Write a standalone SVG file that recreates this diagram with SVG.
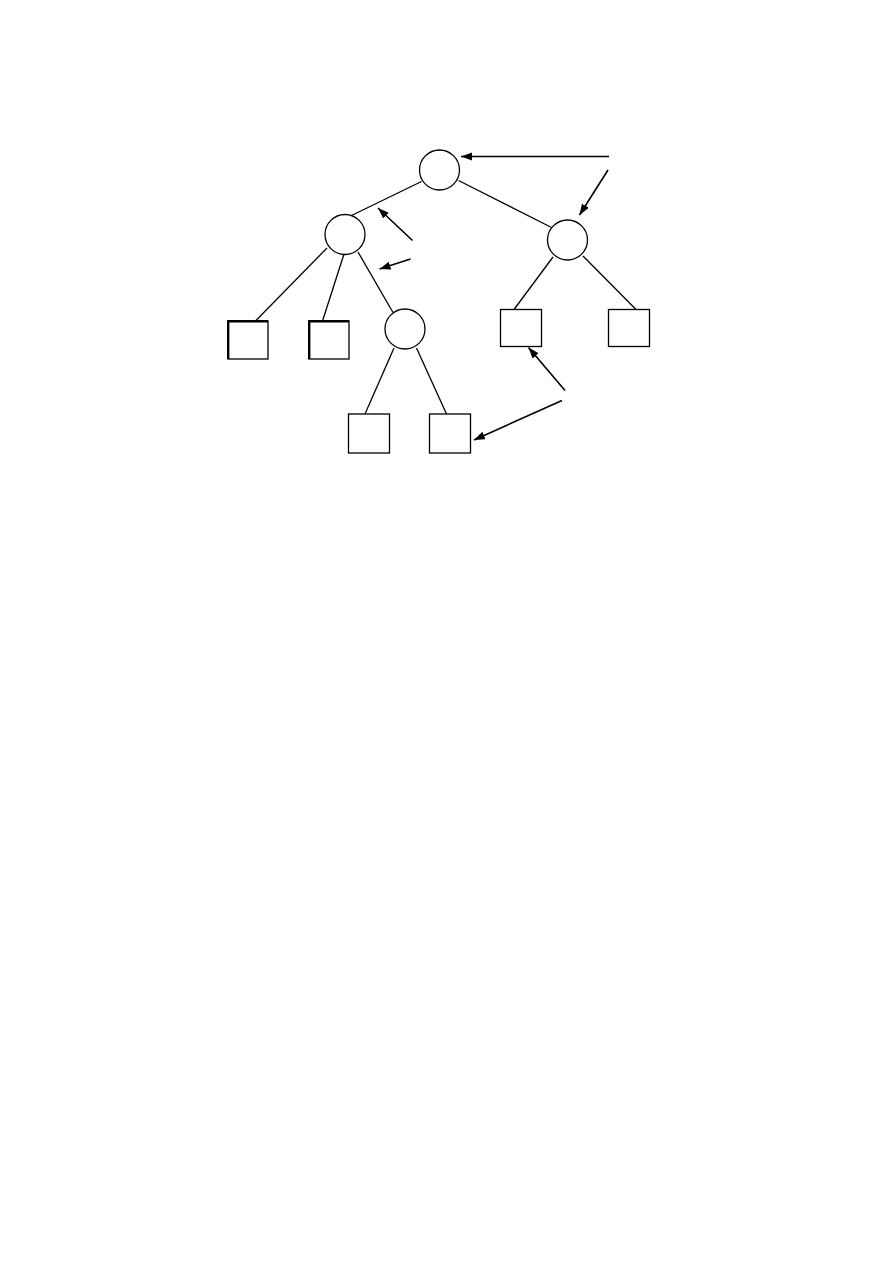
<svg xmlns="http://www.w3.org/2000/svg" width="893" height="1263" viewBox="0 0 893 1263">
<style>
.n{fill:#fff;stroke:#000;stroke-width:1.3}
.e{stroke:#000;stroke-width:1.3;fill:none}
.a{stroke:#000;stroke-width:1.6;fill:none;marker-end:url(#ah)}
.thick{stroke:#000;stroke-width:2.4;fill:none}
</style>
<defs>
<marker id="ah" markerUnits="userSpaceOnUse" markerWidth="12" markerHeight="9" refX="11" refY="4" orient="auto">
<path d="M0,0 L11,4 L0,8 z" fill="#000"/>
</marker>
</defs>
<rect width="893" height="1263" fill="#fff"/>
<g id="connectors">
<line class="e" x1="421.5" y1="181.5" x2="351.5" y2="215.5"/>
<line class="e" x1="458.5" y1="180.5" x2="551.5" y2="227.5"/>
<line class="e" x1="327" y1="248" x2="255.5" y2="321"/>
<line class="e" x1="344" y1="254" x2="322.5" y2="321"/>
<line class="e" x1="358" y1="252" x2="393" y2="312.5"/>
<line class="e" x1="553" y1="257" x2="514" y2="309.5"/>
<line class="e" x1="583" y1="256" x2="636" y2="309.5"/>
<line class="e" x1="394" y1="348" x2="365" y2="414"/>
<line class="e" x1="416.5" y1="348" x2="446.5" y2="414"/>
<line class="a" x1="609" y1="156.5" x2="461" y2="156.5"/>
<line class="a" x1="608" y1="170" x2="579.5" y2="215"/>
<line class="a" x1="412.5" y1="240.5" x2="378" y2="208"/>
<line class="a" x1="410.5" y1="259" x2="379.5" y2="269"/>
<line class="a" x1="565" y1="390.5" x2="528.5" y2="347.5"/>
<line class="a" x1="562" y1="400.5" x2="474" y2="440"/>
</g>
<g id="root"><circle class="n" cx="439.5" cy="170" r="20"/></g>
<g id="left"><circle class="n" cx="345" cy="234.5" r="20"/></g>
<g id="right"><circle class="n" cx="567.5" cy="240" r="20"/></g>
<g id="mid"><circle class="n" cx="405" cy="329" r="20"/></g>
<g id="sq1"><rect class="n" x="228" y="321" width="40" height="38"/><path class="thick" d="M228.2,359 V321.2 H268"/></g>
<g id="sq2"><rect class="n" x="309" y="321" width="40" height="38"/><path class="thick" d="M309.2,359 V321.2 H349"/></g>
<g id="sq3"><rect class="n" x="500.5" y="309.5" width="41" height="37"/></g>
<g id="sq4"><rect class="n" x="608.5" y="309.5" width="41" height="37"/></g>
<g id="sq5"><rect class="n" x="348.5" y="414" width="41" height="39"/></g>
<g id="sq6"><rect class="n" x="429.5" y="414" width="41" height="39"/></g>
</svg>
